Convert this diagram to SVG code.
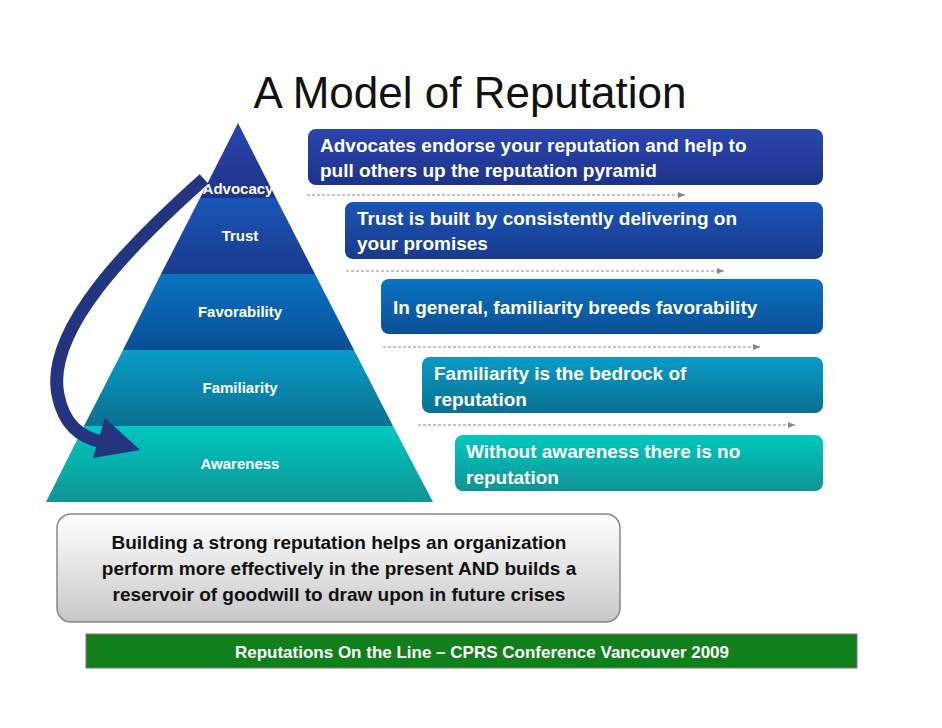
<svg xmlns="http://www.w3.org/2000/svg" width="942" height="728" viewBox="0 0 942 728">
<defs>
<style>
.lbl{font-family:"Liberation Sans",Arial,sans-serif;font-weight:bold;font-size:15px;fill:#fff;text-anchor:middle}
.bt{font-family:"Liberation Sans",Arial,sans-serif;font-weight:bold;font-size:19px;fill:#fff}
.dash{stroke:#888;stroke-width:1;stroke-dasharray:3,2;fill:none}
</style>
<linearGradient id="g0" x1="0" y1="0" x2="0" y2="1"><stop offset="0" stop-color="#2b45b0"/><stop offset="1" stop-color="#1d3388"/></linearGradient>
<linearGradient id="g1" x1="0" y1="0" x2="0" y2="1"><stop offset="0" stop-color="#1a55b8"/><stop offset="1" stop-color="#1a3a8c"/></linearGradient>
<linearGradient id="g2" x1="0" y1="0" x2="0" y2="1"><stop offset="0" stop-color="#0a74c0"/><stop offset="1" stop-color="#0a4e94"/></linearGradient>
<linearGradient id="g3" x1="0" y1="0" x2="0" y2="1"><stop offset="0" stop-color="#0a9cc8"/><stop offset="1" stop-color="#0a7090"/></linearGradient>
<linearGradient id="g4" x1="0" y1="0" x2="0" y2="1"><stop offset="0" stop-color="#00c8c0"/><stop offset="1" stop-color="#109494"/></linearGradient>
<linearGradient id="gb" x1="0" y1="0" x2="0" y2="1"><stop offset="0" stop-color="#ffffff"/><stop offset="1" stop-color="#c8c8c8"/></linearGradient>
<marker id="ah" markerWidth="8" markerHeight="8" refX="7" refY="4" orient="auto" markerUnits="userSpaceOnUse"><path d="M0,1 L7,4 L0,7Z" fill="#888"/></marker>
</defs>
<rect width="942" height="728" fill="#fff"/>
<text x="470" y="108" font-family="Liberation Sans,Arial,sans-serif" font-size="44" text-anchor="middle" fill="#111">A Model of Reputation</text>

<g id="pyramid">
<g id="advocacy"><polygon points="238,123 276,198 200,198" fill="url(#g0)"/><text class="lbl" x="238" y="194" font-size="13">Advocacy</text></g>
<g id="trust"><polygon points="200,198 276,198 315,274 161,274" fill="url(#g1)"/><text class="lbl" x="240" y="241">Trust</text></g>
<g id="favorability"><polygon points="161,274 315,274 354,350 123,350" fill="url(#g2)"/><text class="lbl" x="240" y="317">Favorability</text></g>
<g id="familiarity"><polygon points="123,350 354,350 393,426 84,426" fill="url(#g3)"/><text class="lbl" x="240" y="393">Familiarity</text></g>
<g id="awareness"><polygon points="84,426 393,426 433,502 46,502" fill="url(#g4)"/><text class="lbl" x="240" y="469">Awareness</text></g>
</g>

<g id="boxes">
<g id="b1"><rect x="308" y="129" width="515" height="56" rx="8" fill="url(#g0)"/><text class="bt" x="320" y="152">Advocates endorse your reputation and help to</text><text class="bt" x="320" y="177">pull others up the reputation pyramid</text></g>
<g id="b2"><rect x="345" y="202" width="478" height="57" rx="8" fill="url(#g1)"/><text class="bt" x="357" y="225">Trust is built by consistently delivering on</text><text class="bt" x="357" y="250">your promises</text></g>
<g id="b3"><rect x="381" y="279" width="442" height="55" rx="8" fill="url(#g2)"/><text class="bt" x="393" y="314">In general, familiarity breeds favorability</text></g>
<g id="b4"><rect x="422" y="357" width="401" height="56" rx="8" fill="url(#g3)"/><text class="bt" x="434" y="380">Familiarity is the bedrock of</text><text class="bt" x="434" y="406">reputation</text></g>
<g id="b5"><rect x="455" y="435" width="368" height="56" rx="8" fill="url(#g4)"/><text class="bt" x="466" y="458">Without awareness there is no</text><text class="bt" x="466" y="484">reputation</text></g>
</g>

<g id="connectors">
<line class="dash" x1="307" y1="195" x2="685" y2="195" marker-end="url(#ah)"/>
<line class="dash" x1="346" y1="271" x2="724" y2="271" marker-end="url(#ah)"/>
<line class="dash" x1="383" y1="347" x2="760" y2="347" marker-end="url(#ah)"/>
<line class="dash" x1="418" y1="425" x2="795" y2="425" marker-end="url(#ah)"/>
<path d="M204,179 C130,245 45,330 58,395 C64,425 80,437 102,442" fill="none" stroke="#24357f" stroke-width="13"/>
<polygon points="105,418 140,450 93,458" fill="#24357f"/>
</g>

<g id="note">
<rect x="57" y="514" width="563" height="108" rx="14" fill="url(#gb)" stroke="#888" stroke-width="1.5"/>
<text font-family="Liberation Sans,Arial,sans-serif" font-weight="bold" font-size="19" fill="#111" text-anchor="middle"><tspan x="339" y="549">Building a strong reputation helps an organization</tspan><tspan x="339" y="575">perform more effectively in the present AND builds a</tspan><tspan x="339" y="601">reservoir of goodwill to draw upon in future crises</tspan></text>
</g>
<g id="footer">
<rect x="86" y="634" width="771" height="34" fill="#11801c" stroke="#7a7a7a" stroke-width="1"/>
<text x="482" y="658" font-family="Liberation Sans,Arial,sans-serif" font-weight="bold" font-size="17" fill="#fff" text-anchor="middle">Reputations On the Line – CPRS Conference Vancouver 2009</text>
</g>
</svg>
